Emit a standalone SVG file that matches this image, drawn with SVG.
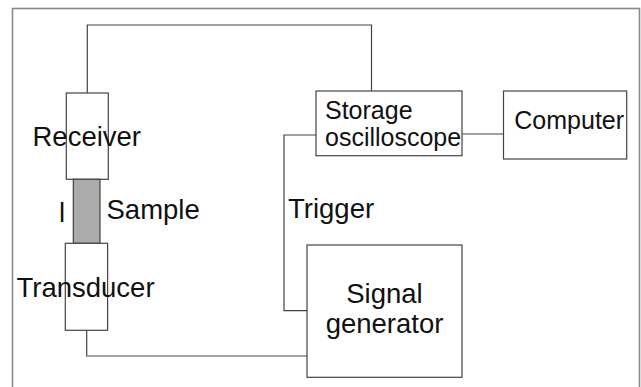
<svg xmlns="http://www.w3.org/2000/svg" width="641" height="387" viewBox="0 0 641 387">
<style>
.box{fill:#fff;stroke:#444;stroke-width:1.2}
.wire{fill:none;stroke:#444;stroke-width:1.2}
.t{font-family:"Liberation Sans",Arial,sans-serif;fill:#111}
.big{font-size:27.5px}
.mid{font-size:25px}
</style>
<rect x="0" y="0" width="641" height="387" fill="#fff"/>
<rect x="12.5" y="8.5" width="627" height="400" fill="none" stroke="#8a8a8a" stroke-width="1.6"/>
<g id="connectors">
<polyline class="wire" points="87.3,93 87.3,25 371.5,25 371.5,91"/>
<polyline class="wire" points="86.7,330 86.7,356 307,356"/>
<polyline class="wire" points="316,135 284,135 284,310.7 307,310.7"/>
<line class="wire" x1="462" y1="134" x2="503.5" y2="134"/>
</g>
<g id="receiver">
<rect class="box" x="66.3" y="93" width="42" height="86.3"/>
<text class="t big" x="32.5" y="146">Receiver</text>
</g>
<g id="sample">
<rect x="73.3" y="179.3" width="26.7" height="64" fill="#ababab" stroke="#444" stroke-width="1.2"/>
<text class="t big" x="106.5" y="219">Sample</text>
<text class="t big" x="59" y="222">l</text>
</g>
<g id="transducer">
<rect class="box" x="65.3" y="243.3" width="42.3" height="87"/>
<text class="t big" x="16.5" y="297">Transducer</text>
</g>
<g id="storage">
<rect class="box" x="316" y="91" width="146" height="64.7"/>
<text class="t mid" x="325" y="119.3">Storage</text>
<text class="t mid" x="325" y="146">oscilloscope</text>
</g>
<g id="computer">
<rect class="box" x="503.5" y="91" width="123.2" height="68"/>
<text class="t mid" x="514.3" y="129.3">Computer</text>
</g>
<g id="trigger">
<text class="t big" x="288" y="217.7">Trigger</text>
</g>
<g id="signal-generator">
<rect class="box" x="307" y="245" width="155" height="132.3"/>
<text class="t big" x="384.5" y="302.7" text-anchor="middle">Signal</text>
<text class="t big" x="384.5" y="333.3" text-anchor="middle">generator</text>
</g>
</svg>
